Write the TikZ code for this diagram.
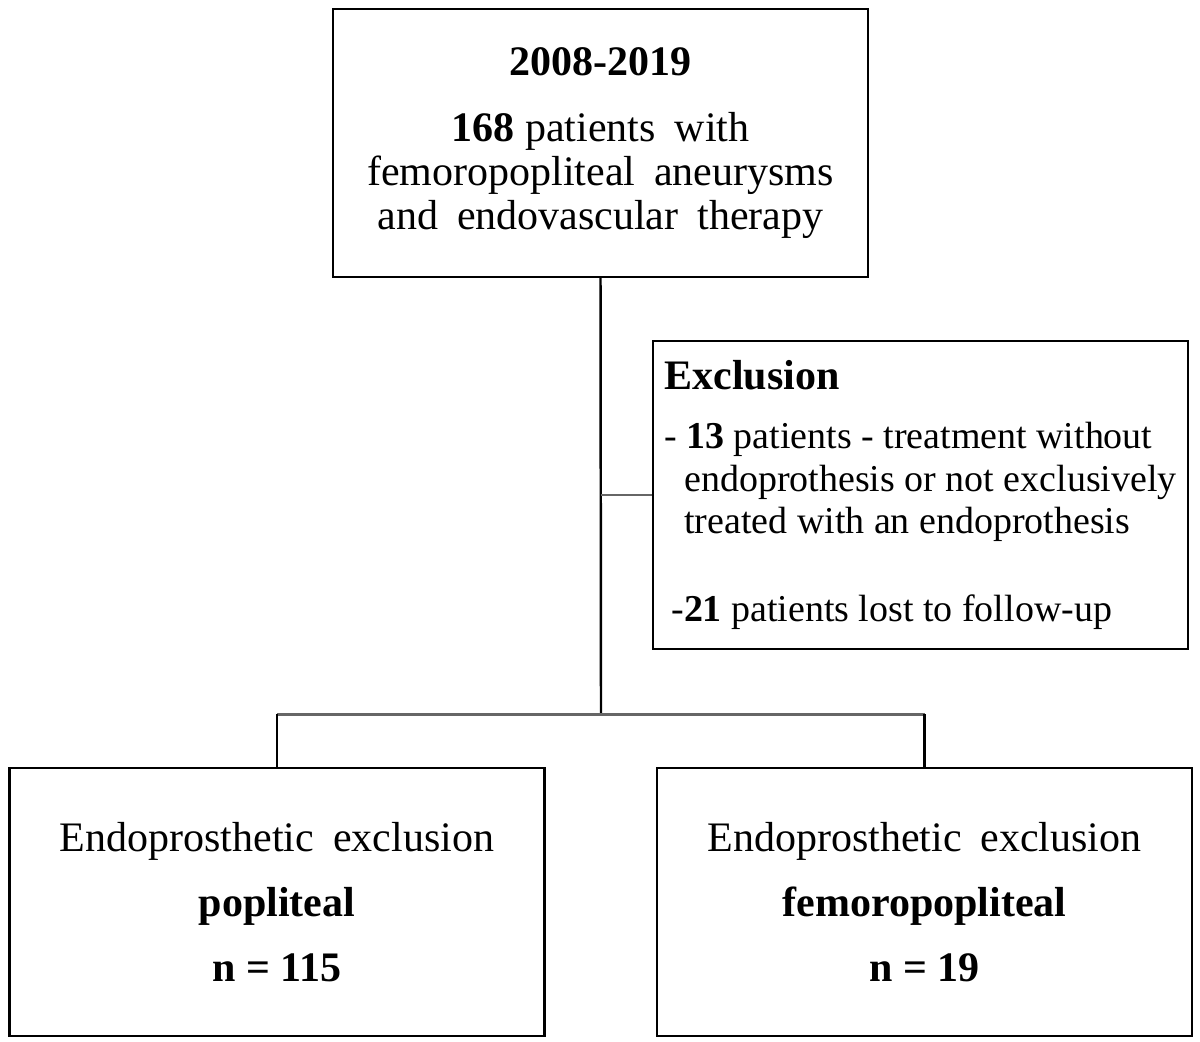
\documentclass[tikz,border=0pt]{standalone}
\usepackage{fontspec}
\setmainfont{Liberation Serif}
\newcommand\widegap{\spaceskip=0.45em\relax}
\begin{document}
\begin{tikzpicture}[
    box/.style={draw, black, line width=1.3pt, minimum width=10.7cm, minimum height=5.36cm, align=center, inner sep=0pt},
    big/.style={font=\fontsize{23.9}{24.8}\selectfont},
    link/.style={black, line width=1.4pt},
    bar/.style={black!60, line width=1.7pt},
    ]
    \useasboundingbox (0,0) rectangle (24,-20.82);
    \node[box, big] (top) at (12.01,-2.86) {\textbf{2008-2019}\\[12.8pt] \textbf{168} \widegap patients with\\ \widegap femoropopliteal aneurysms\\ \widegap and endovascular therapy};
    \node[box, align=left, minimum height=6.16cm, font=\fontsize{21.6}{24.2}\selectfont] (excl) at (18.41,-9.9) {{\fontsize{23.9}{24.2}\selectfont\textbf{Exclusion}}\\[9.4pt] - \textbf{13} patients - treatment without\\ \hspace*{0.4cm}endoprothesis or not exclusively\\ \hspace*{0.4cm}treated with an endoprothesis\\[25.9pt] \hspace*{0.14cm}-\textbf{21} patients lost to follow-up};
    \node[box, font=\fontsize{23.9}{37}\selectfont] (popl) at (5.54,-18.04) {\widegap Endoprosthetic exclusion\\ \textbf{popliteal}\\ \textbf{n = 115}};
    \node[box, font=\fontsize{23.9}{37}\selectfont] (femo) at (18.49,-18.04) {\widegap Endoprosthetic exclusion\\ \textbf{femoropopliteal}\\ \textbf{n = 19}};
    \coordinate (split) at (12.02,-14.28);
    \draw[link] (top.south) -- (split);
    \draw[bar] (top.south |- excl.west) -- (excl.west);
    \draw[bar] (popl.north |- split) -- (femo.north |- split);
    \draw[link] (popl.north |- split) -- (popl.north);
    \draw[link] (femo.north |- split) -- (femo.north);
\end{tikzpicture}
\end{document}
